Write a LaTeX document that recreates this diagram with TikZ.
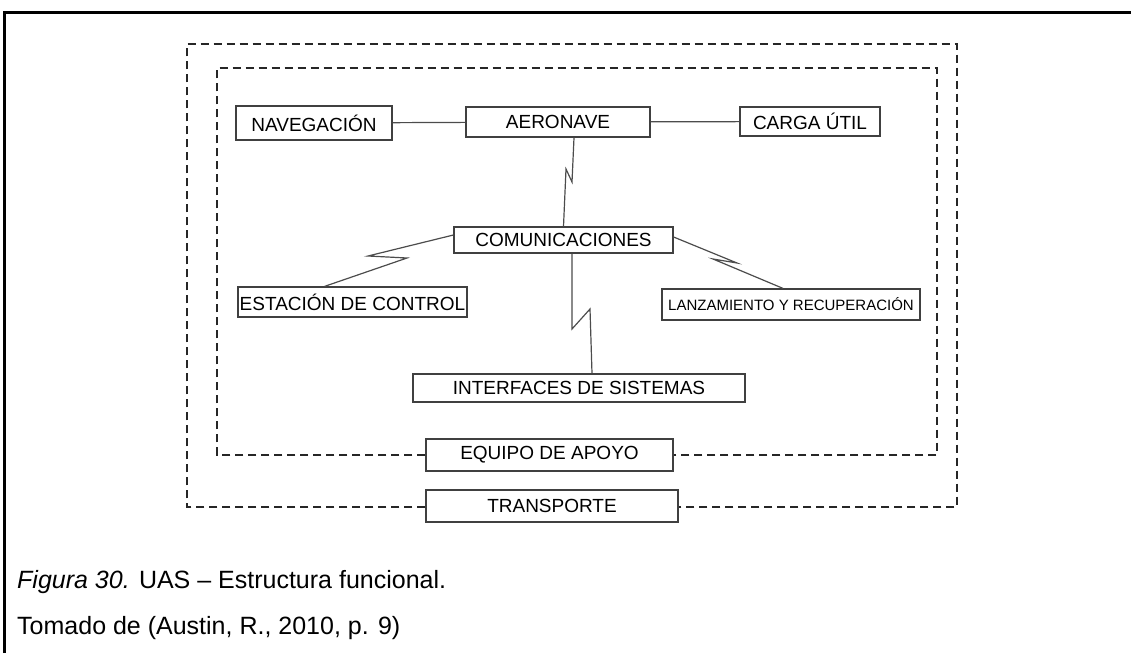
\documentclass[tikz,border=0pt]{standalone}
\usepackage{fontspec}
\setmainfont{Liberation Sans}
\usetikzlibrary{positioning}
\tikzset{
  caja/.style={draw=black!75,line width=1.2pt,fill=white,inner sep=0pt,
    font=\fontsize{19}{21}\selectfont},
  enlace/.style={draw=black!70,line width=1.2pt},
  limite/.style={draw=black!85,line width=2.2pt,dash pattern=on 8pt off 5pt},
  leyenda/.style={anchor=base west,inner sep=0pt,font=\fontsize{25}{28}\selectfont}
}
\begin{document}
\begin{tikzpicture}[x=1pt,y=-1pt]
  \useasboundingbox (0,0) rectangle (1131,653);
  \draw[line width=3pt] (4,653)--(4,12)--(1131,12);
  % bloques
  \node[caja,minimum width=156pt,minimum height=34pt] (nav) at (314,123) {NAVEGACIÓN};
  \node[caja,minimum width=184pt,minimum height=30pt] (aero) at (558,122) {AERONAVE};
  \node[caja,minimum width=140pt,minimum height=29pt] (carga) at (810,121.5) {CARGA ÚTIL};
  \node[caja,minimum width=219pt,minimum height=26pt] (com) at (563.5,240) {COMUNICACIONES};
  \node[caja,minimum width=229pt,minimum height=30pt] (est) at (352.5,302) {ESTACIÓN DE CONTROL};
  \node[caja,minimum width=258pt,minimum height=31pt,font=\fontsize{15}{17}\selectfont]
       (lan) at (791,304.5) {LANZAMIENTO Y RECUPERACIÓN};
  \node[caja,minimum width=332pt,minimum height=28pt] (int) at (579,388) {INTERFACES DE SISTEMAS};
  \node[caja,minimum width=247pt,minimum height=32pt] (apoyo) at (549.5,455) {EQUIPO DE APOYO};
  \node[caja,minimum width=252pt,minimum height=32pt] (trans) at (552,506) {TRANSPORTE};
  % limites
  \coordinate (inNW) at (217,68);  \coordinate (inNE) at (937,68);
  \coordinate (outNW) at (187,44); \coordinate (outNE) at (957,44);
  \draw[limite] (apoyo.west) -| (inNW) -- (inNE) |- (apoyo.east);
  \draw[limite] ([yshift=-1pt]trans.west) -| (outNW) -- (outNE) |- ([yshift=-1pt]trans.east);
  % enlaces
  \draw[enlace] (nav) -- (aero) (aero) -- (carga);
  \draw[enlace] ([xshift=16pt]aero.south) -- (572,182) -- (566,169) -- (com.north);
  \draw[enlace] ([yshift=5pt]com.west) -- (368,256) -- (407,258) -- ([xshift=-28pt]est.north);
  \draw[enlace] ([yshift=3pt]com.east) -- (737,263) -- (713,259) -- ([xshift=-8pt]lan.north);
  \draw[enlace] ([xshift=8.5pt]com.south) -- (572,329) -- (590,309) -- ([xshift=13pt]int.north);
  % pie
  \node[leyenda] (fig) at (17,588) {\textit{Figura 30.} UAS – Estructura funcional.};
  \node[leyenda] (src) at (17,634) {Tomado de (Austin, R., 2010, p. 9)};
\end{tikzpicture}
\end{document}
